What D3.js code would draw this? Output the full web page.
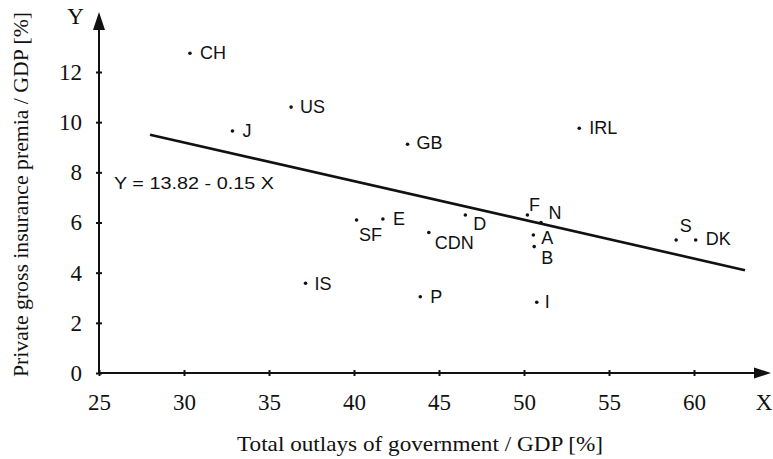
<!DOCTYPE html>
<html>
<head>
<meta charset="utf-8">
<script src="https://cdn.jsdelivr.net/npm/d3@7"></script>
<style>
  html, body { margin: 0; padding: 0; background: #fff; }
  svg { display: block; }
</style>
</head>
<body>
<svg id="chart" width="773" height="459"></svg>
<script>
// ---- data ----
const countries = ["CH","US","J","GB","IRL","SF","E","D","CDN","F","N","A","B","P","I","IS","S","DK"];
const outlays   = [30.35,36.3,32.85,43.15,53.25,40.15,41.7,46.55,44.4,50.2,51.0,50.55,50.6,43.9,50.75,37.15,58.95,60.1];
const premia    = [12.75,10.6,9.65,9.12,9.76,6.1,6.14,6.3,5.6,6.3,6.0,5.5,5.04,3.04,2.82,3.58,5.3,5.3];
const xTicks = [25,30,35,40,45,50,55,60];
const yTicks = [0,2,4,6,8,10,12];
const fitX = [28, 63];
const fitY = [9.5, 4.1];
const equationText = "Y = 13.82 - 0.15 X";
const xTitle = "Total outlays of government / GDP [%]";
const yTitle = "Private gross insurance premia / GDP [%]";

// ---- layout (label offsets in px relative to point) ----
const labelOffset = {
  CH:[10,6], US:[9,5.5], J:[10,6], GB:[9,5], IRL:[10,5.5], SF:[2.5,21.5], E:[10,6],
  D:[8,15.5], CDN:[6,16.5], F:[1.5,-4], N:[7.5,-3.5], A:[8,8.5], B:[7,17],
  P:[10,6], I:[8,5.5], IS:[9,6.5], S:[3.5,-8.5], DK:[10,5]
};

const svg = d3.select("#chart");
const x = d3.scaleLinear().domain([25, 60]).range([99, 694]);
const y = d3.scaleLinear().domain([0, 12]).range([373, 72]);

const ink = "#111";
const serif = "'Liberation Serif', 'Times New Roman', serif";
const sans = "'Liberation Sans', Arial, sans-serif";
const tickFont = 23;

// axes lines
const x0 = x(25), y0 = y(0);
svg.append("line").attr("x1", x0).attr("y1", y0).attr("x2", 758).attr("y2", y0)
  .attr("stroke", ink).attr("stroke-width", 2);
svg.append("line").attr("x1", x0).attr("y1", y0).attr("x2", x0).attr("y2", 26)
  .attr("stroke", ink).attr("stroke-width", 2);
// arrowheads
svg.append("path").attr("d", `M${x0},12 L${x0-6},30 L${x0+6},30 Z`).attr("fill", ink);
svg.append("path").attr("d", `M771,${y0} L754,${y0-5.5} L754,${y0+5.5} Z`).attr("fill", ink);

// ticks using d3 axis generators
const xAxis = d3.axisBottom(x).tickValues(xTicks).tickSize(0).tickPadding(21).tickFormat(d3.format("d"));
const gx = svg.append("g").attr("transform", `translate(0,${y0})`).call(xAxis);
gx.select(".domain").remove();
gx.selectAll("text").attr("font-family", serif).attr("font-size", tickFont).attr("fill", ink);
gx.selectAll(".tick").append("line").attr("y1", -3).attr("y2", 3).attr("stroke", ink).attr("stroke-width", 2);

const yAxis = d3.axisLeft(y).tickValues(yTicks).tickSize(0).tickPadding(17).tickFormat(d3.format("d"));
const gy = svg.append("g").attr("transform", `translate(${x0},0)`).call(yAxis);
gy.select(".domain").remove();
gy.selectAll("text").attr("font-family", serif).attr("font-size", tickFont).attr("fill", ink);
gy.selectAll(".tick").append("line").attr("x1", -3).attr("x2", 3).attr("stroke", ink).attr("stroke-width", 2);

// axis letters
svg.append("text").attr("x", 75.5).attr("y", 23.5).attr("text-anchor", "middle")
  .attr("font-family", serif).attr("font-size", tickFont).attr("fill", ink).text("Y");
svg.append("text").attr("x", 764).attr("y", 410).attr("text-anchor", "middle")
  .attr("font-family", serif).attr("font-size", tickFont).attr("fill", ink).text("X");

// titles
svg.append("text").attr("x", 237).attr("y", 450.5)
  .attr("textLength", 366).attr("lengthAdjust", "spacingAndGlyphs")
  .attr("font-family", serif).attr("font-size", 21).attr("fill", ink).text(xTitle);
svg.append("text").attr("transform", "translate(27.5,377) rotate(-90)")
  .attr("textLength", 365).attr("lengthAdjust", "spacingAndGlyphs")
  .attr("font-family", serif).attr("font-size", 21.5).attr("fill", ink).text(yTitle);

// regression line
svg.append("line")
  .attr("x1", x(fitX[0])).attr("y1", y(fitY[0]))
  .attr("x2", x(fitX[1])).attr("y2", y(fitY[1]))
  .attr("stroke", ink).attr("stroke-width", 2.6);

svg.append("text").attr("x", 114).attr("y", 188.5)
  .attr("textLength", 160).attr("lengthAdjust", "spacingAndGlyphs")
  .attr("font-family", sans).attr("font-size", 17).attr("fill", ink).text(equationText);

// points
const pts = countries.map((c, i) => ({ c, vx: outlays[i], vy: premia[i] }));
svg.append("g").selectAll("circle").data(pts).join("circle")
  .attr("cx", d => x(d.vx)).attr("cy", d => y(d.vy)).attr("r", 1.8).attr("fill", ink);
svg.append("g").selectAll("text").data(pts).join("text")
  .attr("x", d => x(d.vx) + labelOffset[d.c][0])
  .attr("y", d => y(d.vy) + labelOffset[d.c][1])
  .attr("font-family", sans).attr("font-size", 18).attr("fill", ink)
  .text(d => d.c);
</script>
</body>
</html>
